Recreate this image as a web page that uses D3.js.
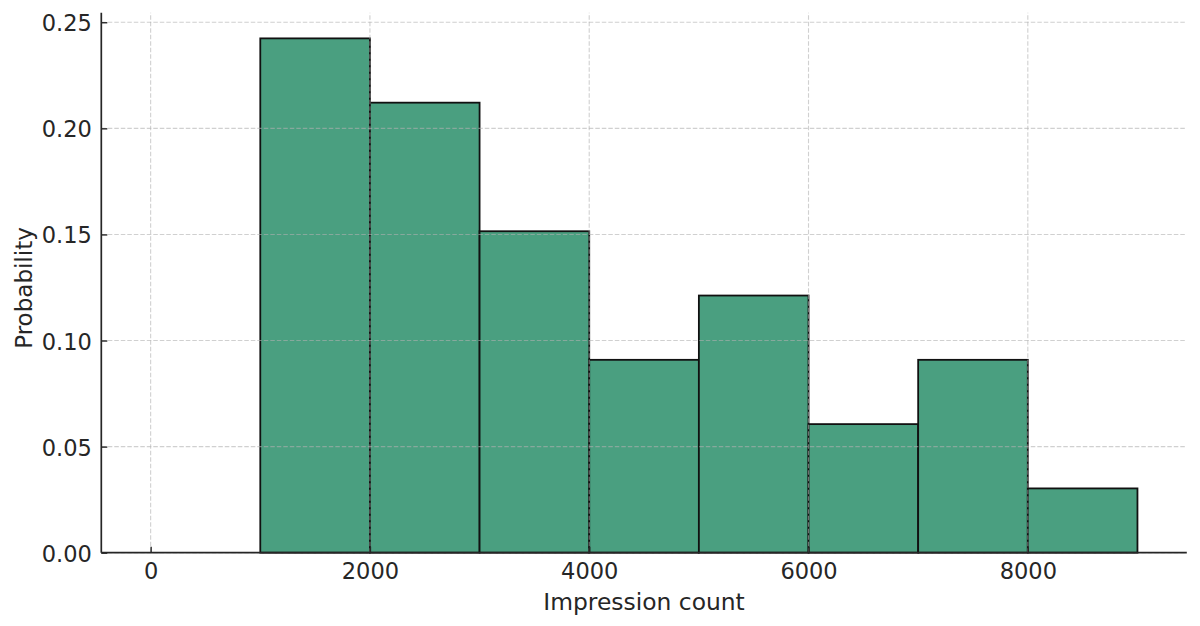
<!DOCTYPE html>
<html>
<head>
<meta charset="utf-8">
<script src="https://cdn.jsdelivr.net/npm/d3@7"></script>
<style>
  body { margin: 0; background: #fff; }
  text { font-family: "DejaVu Sans", sans-serif; fill: #262626; }
</style>
</head>
<body>
<div id="chart"></div>
<script>
// histogram bins (impression count) and probability per bin
var binEdges = [1000, 2000, 3000, 4000, 5000, 6000, 7000, 8000, 9000];
var probs = [0.2424, 0.2121, 0.1515, 0.0909, 0.1212, 0.0606, 0.0909, 0.0303];
var xTicks = [0, 2000, 4000, 6000, 8000];
var yTicks = [0, 0.05, 0.10, 0.15, 0.20, 0.25];

var width = 1200, height = 626;
var margin = {top: 12.7, right: 13.2, bottom: 73.3, left: 101.3};

var svg = d3.select("#chart")
    .append("svg")
    .attr("width", width)
    .attr("height", height);

var x = d3.scaleLinear()
    .domain([-450, 9450])
    .range([margin.left, width - margin.right]);

var y = d3.scaleLinear()
    .domain([0, 0.2545])
    .range([height - margin.bottom, margin.top]);

var bins = probs.map(function(p, i) {
    return {x0: binEdges[i], x1: binEdges[i + 1], p: p};
});

// bars
svg.append("g")
  .selectAll("rect")
  .data(bins)
  .enter()
  .append("rect")
    .attr("x", function(d) { return x(d.x0); })
    .attr("y", function(d) { return y(d.p); })
    .attr("width", function(d) { return x(d.x1) - x(d.x0); })
    .attr("height", function(d) { return y(0) - y(d.p); })
    .style("fill", "#4a9f80")
    .attr("stroke", "#111")
    .attr("stroke-width", 1.8);

// grid, drawn on top of bars like the original
var grid = svg.append("g")
    .attr("stroke", "#b0b0b0")
    .attr("stroke-opacity", 0.6)
    .attr("stroke-width", 1.1)
    .attr("stroke-dasharray", "4.5,2");

grid.selectAll(".vgrid")
  .data(xTicks)
  .enter()
  .append("line")
    .attr("x1", function(d) { return x(d); })
    .attr("x2", function(d) { return x(d); })
    .attr("y1", y.range()[0])
    .attr("y2", y.range()[1]);

grid.selectAll(".hgrid")
  .data(yTicks)
  .enter()
  .append("line")
    .attr("x1", x.range()[0])
    .attr("x2", x.range()[1])
    .attr("y1", function(d) { return y(d); })
    .attr("y2", function(d) { return y(d); });

// axes (ticks point inward)
var xAxis = svg.append("g")
    .attr("transform", `translate(0,${y(0)})`)
    .call(d3.axisBottom(x).tickValues(xTicks).tickSize(-6).tickPadding(16).tickFormat(d3.format("d")));

var yAxis = svg.append("g")
    .attr("transform", `translate(${x.range()[0]},0)`)
    .call(d3.axisLeft(y).tickValues(yTicks).tickSize(-6).tickPadding(16).tickFormat(d3.format(".2f")));

[xAxis, yAxis].forEach(function(ax) {
    ax.select(".domain").attr("stroke", "#262626").attr("stroke-width", 1.7);
    ax.selectAll(".tick line").attr("stroke", "#262626").attr("stroke-width", 1.4);
    ax.selectAll(".tick text")
        .style("font-family", "DejaVu Sans, sans-serif")
        .style("font-size", "22.5px")
        .attr("fill", "#262626");
});
xAxis.select(".domain").attr("d", `M${x.range()[0]},0H${x.range()[1]}`);
yAxis.select(".domain").attr("d", `M0,${y.range()[0]}V${y.range()[1]}`);
xAxis.selectAll(".tick text").attr("y", 10).attr("dy", "0.71em");
yAxis.selectAll(".tick text").attr("x", -9.5).attr("dy", "0.38em");

// axis labels
svg.append("text")
    .attr("x", (x.range()[0] + x.range()[1]) / 2)
    .attr("y", 610)
    .style("text-anchor", "middle")
    .style("font-size", "23.4px")
    .text("Impression count");

svg.append("text")
    .attr("transform", `translate(32,${288}) rotate(-90)`)
    .style("text-anchor", "middle")
    .style("font-size", "23px")
    .text("Probability");
</script>
</body>
</html>
